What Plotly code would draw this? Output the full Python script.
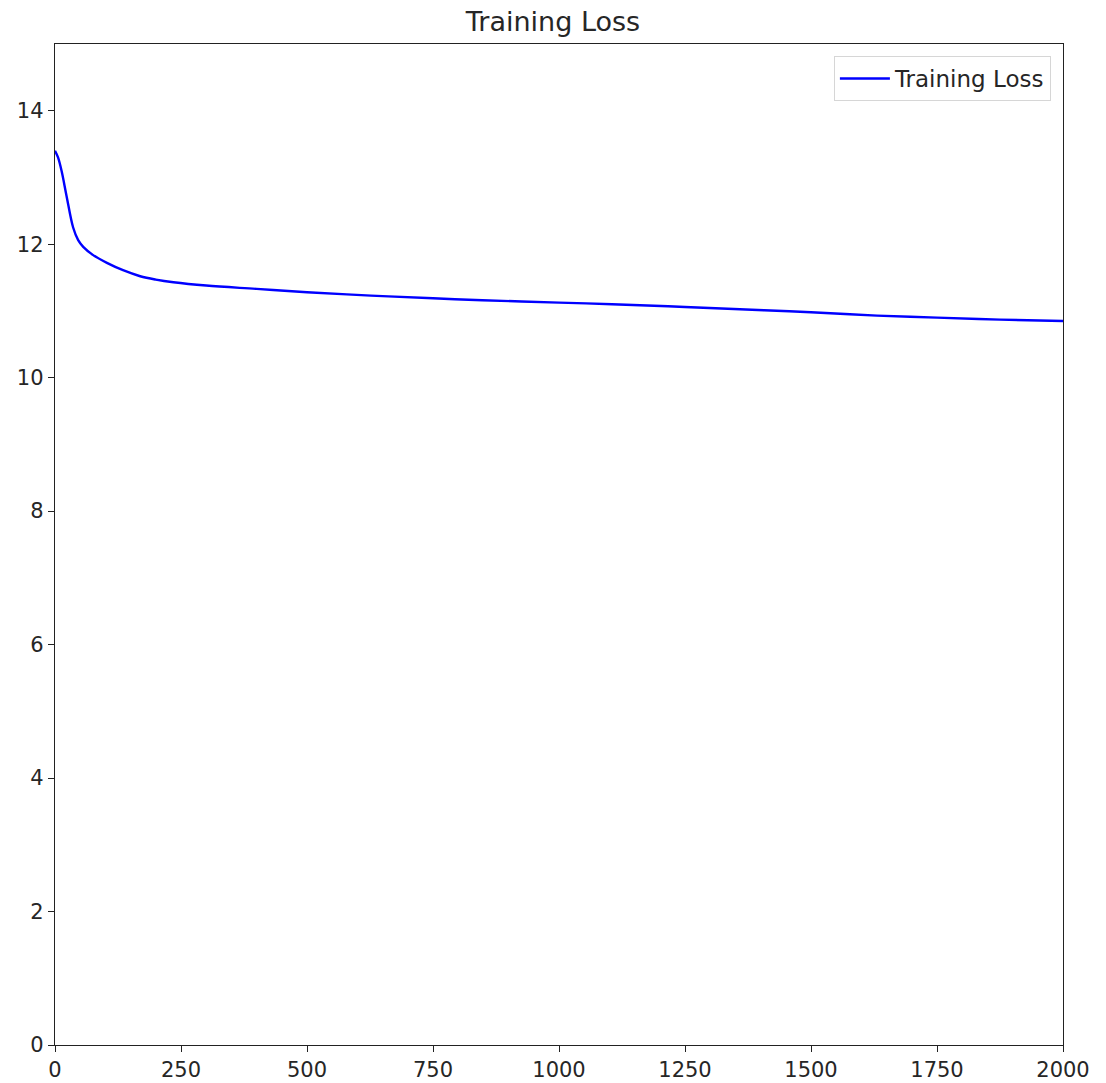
import plotly.graph_objects as go

# Training loss per epoch
epochs = [0, 6, 13, 23, 36, 46, 56, 75, 103, 135, 169, 200, 235, 300, 400, 500, 627, 750, 848, 1000, 1105, 1250, 1407, 1500, 1631, 1750, 1875, 2000]
loss = [13.4, 13.3, 13.1, 12.72, 12.25, 12.06, 11.96, 11.84, 11.72, 11.61, 11.52, 11.47, 11.43, 11.38, 11.33, 11.28, 11.23, 11.19, 11.16, 11.125, 11.1, 11.06, 11.01, 10.98, 10.93, 10.9, 10.87, 10.85]

x_ticks = [0, 250, 500, 750, 1000, 1250, 1500, 1750, 2000]
y_ticks = [0, 2, 4, 6, 8, 10, 12, 14]

fig = go.Figure()
fig.add_trace(go.Scatter(
    x=epochs, y=loss, mode="lines", name="Training Loss",
    line=dict(color="#0000ff", width=2.4, shape="spline"),
))

axis_common = dict(
    showline=True, mirror=True, linecolor="#222222", linewidth=1.4,
    ticks="outside", ticklen=6, tickwidth=1.3, tickcolor="#222222",
    showgrid=False, zeroline=False, automargin=False,
    tickfont=dict(family="DejaVu Sans", size=21, color="#262626"),
)

fig.update_layout(
    width=1106, height=1083,
    margin=dict(l=55, r=43, t=44, b=38),
    paper_bgcolor="white", plot_bgcolor="white",
    title=dict(text="Training Loss", x=0.5, xanchor="center", y=0.98, yanchor="middle",
               font=dict(family="DejaVu Sans", size=27, color="#262626")),
    xaxis=dict(range=[0, 2000], tickvals=x_ticks, **axis_common),
    yaxis=dict(range=[0, 15], tickvals=y_ticks, **axis_common),
    showlegend=True,
    legend=dict(x=0.988, y=0.988, xanchor="right", yanchor="top",
                bgcolor="white", bordercolor="#d6d6d6", borderwidth=1,
                itemwidth=50,
                font=dict(family="DejaVu Sans", size=23, color="#262626")),
)

fig.write_html("out.html")
